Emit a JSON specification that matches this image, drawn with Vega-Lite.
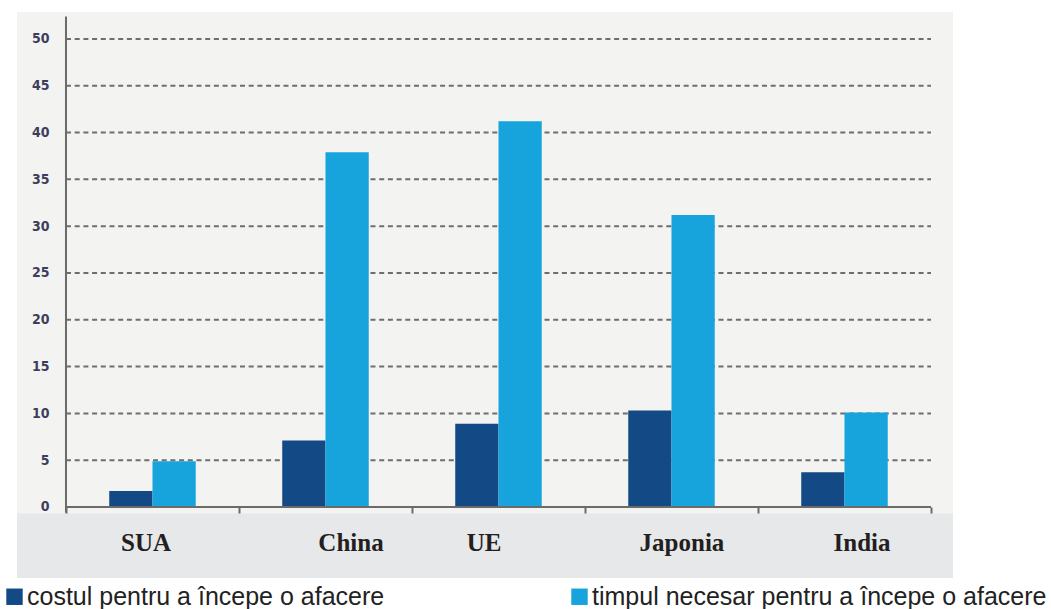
{
  "$schema": "https://vega.github.io/schema/vega-lite/v6.json",
  "width": 936,
  "height": 566,
  "autosize": {"type": "none"},
  "padding": {"left": 17, "top": 12, "right": 98, "bottom": 31},
  "background": "white",
  "view": {"fill": "#f3f3f2", "stroke": null},
  "config": {"font": "Liberation Sans"},
  "layer": [
    {
      "data": {"values": [{}]},
      "mark": {"type": "rect", "color": "#e7e8ea"},
      "encoding": {
        "y": {"datum": -0.7, "type": "quantitative", "scale": {"domain": [-7.585, 52.88], "nice": false, "zero": false}},
        "y2": {"datum": -7.585}
      }
    },
    {
      "data": {"values": [
        {"level": 5}, {"level": 10}, {"level": 15}, {"level": 20}, {"level": 25},
        {"level": 30}, {"level": 35}, {"level": 40}, {"level": 45}, {"level": 50}
      ]},
      "mark": {"type": "rule", "color": "#6e6e6e", "strokeWidth": 2, "strokeDash": [5, 3.7]},
      "encoding": {
        "y": {"field": "level", "type": "quantitative"},
        "x": {"datum": "SUA", "type": "nominal", "bandPosition": 0},
        "x2": {"datum": "India", "bandPosition": 1}
      }
    },
    {
      "data": {"values": [
        {"country": "SUA", "series": "costul pentru a începe o afacere", "value": 1.7},
        {"country": "SUA", "series": "timpul necesar pentru a începe o afacere", "value": 4.9},
        {"country": "China", "series": "costul pentru a începe o afacere", "value": 7.1},
        {"country": "China", "series": "timpul necesar pentru a începe o afacere", "value": 37.9},
        {"country": "UE", "series": "costul pentru a începe o afacere", "value": 8.9},
        {"country": "UE", "series": "timpul necesar pentru a începe o afacere", "value": 41.2},
        {"country": "Japonia", "series": "costul pentru a începe o afacere", "value": 10.3},
        {"country": "Japonia", "series": "timpul necesar pentru a începe o afacere", "value": 31.2},
        {"country": "India", "series": "costul pentru a începe o afacere", "value": 3.7},
        {"country": "India", "series": "timpul necesar pentru a începe o afacere", "value": 10.1}
      ]},
      "mark": {"type": "bar"},
      "encoding": {
        "x": {
          "field": "country",
          "type": "nominal",
          "sort": ["SUA", "China", "UE", "Japonia", "India"],
          "scale": {"paddingInner": 0, "paddingOuter": 0.2052, "align": 0.69},
          "axis": {
            "title": null,
            "zindex": 2,
            "offset": -71,
            "domain": false,
            "grid": false,
            "ticks": true,
            "tickBand": "extent",
            "tickSize": 6,
            "tickWidth": 2,
            "tickColor": "#6b6b6b",
            "labelAngle": 0,
            "labelAlign": "center",
            "labelBaseline": "alphabetic",
            "labelPadding": 37,
            "labelFont": "Liberation Serif",
            "labelFontWeight": "bold",
            "labelFontSize": 25,
            "labelColor": "#231f20",
            "labelOverlap": false,
            "labelOffset": {"expr": "datum.value === 'SUA' ? -7 : datum.value === 'China' ? 25 : datum.value === 'UE' ? -15 : datum.value === 'Japonia' ? 10 : 17"}
          }
        },
        "xOffset": {
          "field": "series",
          "type": "nominal",
          "sort": ["costul pentru a începe o afacere", "timpul necesar pentru a începe o afacere"],
          "scale": {"paddingInner": 0, "paddingOuter": 1.136}
        },
        "y": {
          "field": "value",
          "type": "quantitative",
          "axis": {
            "title": null,
            "offset": -49,
            "values": [0, 5, 10, 15, 20, 25, 30, 35, 40, 45, 50],
            "domain": false,
            "ticks": false,
            "grid": false,
            "labelPadding": 17,
            "labelFont": "DejaVu Sans Condensed, Liberation Sans",
            "labelFontWeight": "bold",
            "labelFontSize": 14,
            "labelColor": "#3c3f5c"
          }
        },
        "y2": {"datum": 0},
        "color": {
          "field": "series",
          "type": "nominal",
          "scale": {
            "domain": ["costul pentru a începe o afacere", "timpul necesar pentru a începe o afacere"],
            "range": ["#134985", "#17a4dd"]
          },
          "legend": {
            "orient": "none",
            "legendX": -15,
            "legendY": 572,
            "direction": "horizontal",
            "title": null,
            "symbolType": "square",
            "symbolSize": 270,
            "symbolStrokeWidth": 0,
            "labelFont": "Liberation Sans",
            "labelFontSize": 25,
            "labelColor": "#222222",
            "labelOffset": 0,
            "labelLimit": 600,
            "columnPadding": 182
          }
        }
      }
    },
    {
      "data": {"values": [{}]},
      "mark": {"type": "rule", "color": "#6b6b6b", "strokeWidth": 2},
      "encoding": {
        "x": {"datum": "SUA", "type": "nominal", "bandPosition": 0},
        "y": {"datum": 52.4, "type": "quantitative"},
        "y2": {"datum": -0.6}
      }
    },
    {
      "data": {"values": [{}]},
      "mark": {"type": "rule", "color": "#6b6b6b", "strokeWidth": 2},
      "encoding": {
        "x": {"datum": "SUA", "type": "nominal", "bandPosition": 0},
        "x2": {"datum": "India", "bandPosition": 1},
        "y": {"datum": 0, "type": "quantitative"}
      }
    }
  ]
}
